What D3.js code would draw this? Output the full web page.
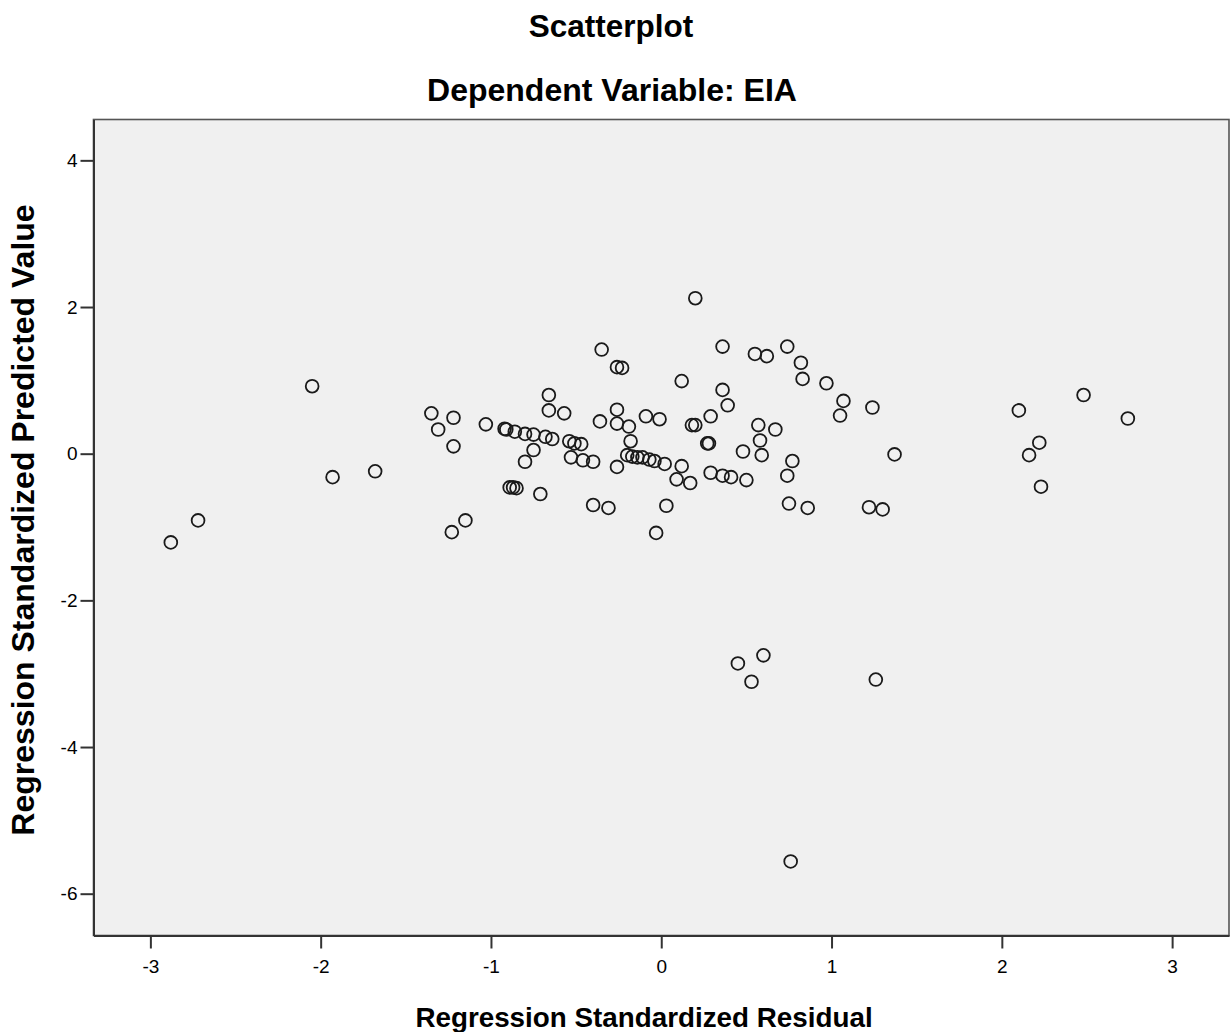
<!DOCTYPE html>
<html>
<head>
<meta charset="utf-8">
<script src="https://cdn.jsdelivr.net/npm/d3@7"></script>
<style>
  html, body { margin: 0; padding: 0; background: #ffffff; }
  svg { display: block; }
  text { font-family: "Liberation Sans", Arial, sans-serif; fill: #000; }
</style>
</head>
<body>
<svg id="chart" width="1230" height="1032"></svg>
<script>
const titleText = "Scatterplot";
const subtitleText = "Dependent Variable: EIA";
const xTitle = "Regression Standardized Residual";
const yTitle = "Regression Standardized Predicted Value";
const xTicks = [-3, -2, -1, 0, 1, 2, 3];
const yTicks = [4, 2, 0, -2, -4, -6];

// Regression standardized residual (x)
const residual = [
  -2.88, -2.72, -2.05, -1.93, -1.68, -1.35, -1.22, -1.31, -1.22, -1.23,
  -1.15, -1.03, -0.92, -0.91, -0.86, -0.80, -0.75, -0.75, -0.80, -0.68,
  -0.64, -0.66, -0.66, -0.57, -0.54, -0.51, -0.47, -0.53, -0.46, -0.40,
  -0.89, -0.87, -0.85, -0.71, -0.36, -0.26, -0.26, -0.19, -0.18, -0.20,
  -0.17, -0.14, -0.11, -0.07, -0.04, -0.26, -0.09, -0.01, 0.02, 0.12,
  0.09, 0.17, -0.40, -0.31, 0.03, -0.03, 0.12, 0.18, 0.20, -0.35,
  -0.26, -0.23, 0.20, 0.36, 0.55, 0.62, 0.74, 0.82, 0.83, 0.97,
  1.07, 1.05, 1.24, 0.36, 0.39, 0.29, 0.27, 0.28, 0.57, 0.67,
  0.58, 0.59, 0.48, 0.77, 0.74, 1.37, 0.29, 0.36, 0.41, 0.50,
  0.75, 0.86, 1.22, 1.30, 2.10, 2.48, 2.74, 2.22, 2.16, 2.23,
  0.45, 0.53, 0.60, 1.26, 0.76
];

// Regression standardized predicted value (y)
const predicted = [
  -1.21, -0.91, 0.92, -0.32, -0.24, 0.55, 0.49, 0.33, 0.10, -1.07,
  -0.91, 0.40, 0.34, 0.33, 0.30, 0.27, 0.26, 0.05, -0.11, 0.23,
  0.20, 0.80, 0.59, 0.55, 0.17, 0.14, 0.13, -0.05, -0.09, -0.11,
  -0.46, -0.46, -0.47, -0.55, 0.44, 0.60, 0.41, 0.37, 0.17, -0.02,
  -0.04, -0.05, -0.05, -0.08, -0.10, -0.18, 0.51, 0.47, -0.14, -0.17,
  -0.35, -0.40, -0.70, -0.74, -0.71, -1.08, 0.99, 0.39, 0.39, 1.42,
  1.18, 1.17, 2.12, 1.46, 1.36, 1.33, 1.46, 1.24, 1.02, 0.96,
  0.72, 0.52, 0.63, 0.87, 0.66, 0.51, 0.14, 0.14, 0.39, 0.33,
  0.18, -0.02, 0.03, -0.10, -0.30, -0.01, -0.26, -0.30, -0.32, -0.36,
  -0.68, -0.74, -0.73, -0.76, 0.59, 0.80, 0.48, 0.15, -0.02, -0.45,
  -2.86, -3.11, -2.75, -3.08, -5.56
];

const svg = d3.select("#chart");
const plot = { left: 93.5, right: 1229, top: 119.5, bottom: 935.5 };

const x = d3.scaleLinear().domain([-3.334, 3.334]).range([plot.left, plot.right]);
const y = d3.scaleLinear().domain([-6.57, 4.557]).range([plot.bottom, plot.top]);

// plot background
svg.append("rect")
  .attr("x", plot.left).attr("y", plot.top)
  .attr("width", plot.right - plot.left).attr("height", plot.bottom - plot.top)
  .attr("fill", "#f0f0f0")
  .attr("stroke", "#555").attr("stroke-width", 1.6);

const fmt = d => String(d);  // hyphen-minus like the original

// axes
const xAxis = d3.axisBottom(x).tickValues(xTicks).tickSize(13).tickSizeOuter(0).tickPadding(11).tickFormat(fmt);
const yAxis = d3.axisLeft(y).tickValues(yTicks).tickSize(13).tickSizeOuter(0).tickPadding(3).tickFormat(fmt);

const gx = svg.append("g").attr("transform", `translate(0,${plot.bottom})`).call(xAxis);
const gy = svg.append("g").attr("transform", `translate(${plot.left},0)`).call(yAxis);

[gx, gy].forEach(g => {
  g.select(".domain").attr("stroke", "#333").attr("stroke-width", 2);
  g.selectAll(".tick line").attr("stroke", "#333").attr("stroke-width", 2);
  g.selectAll(".tick text")
    .attr("font-family", "'Liberation Sans', Arial, sans-serif")
    .attr("font-size", 19).attr("fill", "#000");
});

// points
svg.append("g")
  .selectAll("circle")
  .data(residual.map((r, i) => ({ r, p: predicted[i] })))
  .join("circle")
  .attr("cx", d => x(d.r))
  .attr("cy", d => y(d.p))
  .attr("r", 6.4)
  .attr("fill", "none")
  .attr("stroke", "#1a1a1a")
  .attr("stroke-width", 1.8);

// titles
svg.append("text")
  .attr("x", 611).attr("y", 37)
  .attr("text-anchor", "middle")
  .attr("font-size", 31.5).attr("font-weight", "bold")
  .text(titleText);

svg.append("text")
  .attr("x", 612).attr("y", 101)
  .attr("text-anchor", "middle")
  .attr("font-size", 32).attr("font-weight", "bold")
  .text(subtitleText);

svg.append("text")
  .attr("x", 644).attr("y", 1027)
  .attr("text-anchor", "middle")
  .attr("font-size", 27.8).attr("font-weight", "bold")
  .text(xTitle);

svg.append("text")
  .attr("transform", "translate(34,520) rotate(-90)")
  .attr("text-anchor", "middle")
  .attr("font-size", 32).attr("font-weight", "bold")
  .text(yTitle);
</script>
</body>
</html>
